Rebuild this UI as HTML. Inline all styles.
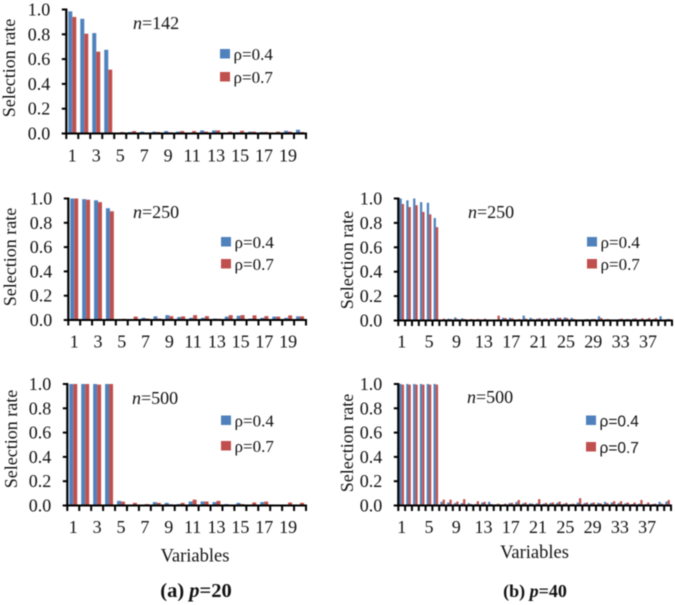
<!DOCTYPE html>
<html lang="en">
<head>
<meta charset="utf-8">
<title>Selection rate by variable</title>
<style>
html,body{margin:0;padding:0;background:#fff;width:675px;height:605px;overflow:hidden}
svg{display:block;filter:blur(.45px)}
text{font-family:"Liberation Serif",serif;fill:#111}
</style>
</head>
<body>
<svg id="figure" xmlns="http://www.w3.org/2000/svg" width="675" height="605" viewBox="0 0 675 605">
  <text x="195" y="561.5" font-size="18.5" text-anchor="middle">Variables</text>
  <text x="534.5" y="558" font-size="18.5" text-anchor="middle">Variables</text>
  <text x="196" y="597" font-size="20.5" font-weight="bold" text-anchor="middle">(a) <tspan font-style="italic">p</tspan>=20</text>
  <text x="535" y="597" font-size="18" font-weight="bold" text-anchor="middle">(b) <tspan font-style="italic">p</tspan>=40</text>
</svg>
<script>
// Data
const seriesNames = ['ρ=0.4', 'ρ=0.7'];
const yTickValues = [0, 0.2, 0.4, 0.6, 0.8, 1.0];
const yTickLabels = ['0.0', '0.2', '0.4', '0.6', '0.8', '1.0'];
const xTickLabels20 = [1, 3, 5, 7, 9, 11, 13, 15, 17, 19];
const xTickLabels40 = [1, 5, 9, 13, 17, 21, 25, 29, 33, 37];

const p20n142rho04 = [.985,.925,.81,.675,.002,.012,.015,.015,.02,.015,.005,.025,.025,.005,.01,.015,.012,.005,.022,.03];
const p20n142rho07 = [.94,.805,.66,.515,.012,.02,.005,.012,.01,.02,.02,.015,.025,.015,.022,.015,.012,.015,.015,.012];
const p20n250rho04 = [1,.995,.985,.92,.003,.005,.018,.03,.04,.025,.018,.018,.012,.028,.035,.012,.018,.028,.018,.03];
const p20n250rho07 = [1,.99,.97,.895,.01,.028,.012,.012,.032,.03,.04,.032,.01,.04,.04,.038,.032,.028,.038,.03];
const p20n500rho04 = [1,1,1,1,.038,.005,.005,.028,.022,.012,.033,.033,.028,.012,.022,.005,.028,.003,.003,.003];
const p20n500rho07 = [1,1,.995,1,.032,.022,.012,.022,.01,.022,.048,.033,.038,.005,.012,.025,.032,.003,.025,.022];
const p40n250rho04 = [1,.985,1,.97,.965,.84,.005,.015,.025,.018,.005,.005,.005,.005,.005,.022,.022,.005,.04,.022,.015,.015,.018,.022,.025,.022,.005,.01,.012,.035,.01,.005,.012,.012,.015,.01,.012,.012,.035,.012];
const p40n250rho07 = [.955,.93,.945,.89,.87,.765,.015,.012,.012,.012,.012,.012,.015,.005,.04,.02,.018,.012,.015,.012,.018,.015,.018,.022,.02,.012,.005,.012,.012,.02,.012,.005,.015,.012,.018,.018,.02,.02,.005,.012];
const p40n500rho04 = [1,1,1,1,1,1,.03,.025,.02,.02,.02,.012,.025,.03,.01,.008,.02,.028,.018,.018,.018,.015,.02,.022,.015,.012,.025,.02,.02,.022,.03,.025,.02,.018,.012,.015,.012,.012,.03,.032];
const p40n500rho07 = [.995,.995,.995,.995,.995,.995,.048,.048,.032,.052,.012,.035,.03,.012,.015,.015,.022,.045,.025,.015,.052,.022,.025,.032,.022,.015,.06,.025,.025,.018,.02,.035,.035,.025,.025,.045,.025,.015,.015,.045];

const seriesColors = ['#4f81bd', '#c0504d'];
const NS = 'http://www.w3.org/2000/svg';
const root = document.getElementById('figure');

function make(parent, tag, attrs, txt) {
  const node = document.createElementNS(NS, tag);
  for (const k in attrs) node.setAttribute(k, attrs[k]);
  if (txt !== undefined) node.textContent = txt;
  parent.appendChild(node);
  return node;
}

function drawPanel(cfg) {
  const panel = make(root, 'g', {});
  
  

  const count = cfg.values[0].length;
  const step = (cfg.right - cfg.left) / count;
  const xScale = i => cfg.left + step * i;
  const yScale = v => cfg.base - (cfg.base - cfg.top) * v;
  const barW = step / 3;

  cfg.values.forEach((vals, s) => {
    vals.forEach((v, i) => {
      const y = yScale(v);
      const bar = make(panel, 'rect', {
        x: xScale(i) + step / 2 - barW + s * barW,
        y: y,
        width: barW,
        height: cfg.base - y,
        fill: seriesColors[s]
      });
      
      
    });
  });

  const yAxis = make(panel, 'line', {x1: cfg.left, x2: cfg.left, y1: cfg.top - 1, y2: cfg.base + 1, stroke: '#000', 'stroke-width': 2.2});
  
  
  const xAxis = make(panel, 'line', {x1: cfg.left - 4.5, x2: cfg.right + 1, y1: cfg.base, y2: cfg.base, stroke: '#000', 'stroke-width': 2});
  
  

  yTickValues.forEach((v, i) => {
    const y = yScale(v);
    const tick = make(panel, 'line', {x1: cfg.left - 4.5, x2: cfg.left, y1: y, y2: y, stroke: '#000', 'stroke-width': 2});
    
    
    const label = make(panel, 'text', {x: cfg.left - 16, y: y + 6, 'font-size': 18, 'text-anchor': 'end'}, yTickLabels[i]);
    
    
  });

  for (let i = 0; i <= count; i++) {
    const tick = make(panel, 'line', {x1: xScale(i), x2: xScale(i), y1: cfg.base, y2: cfg.base + 5.5, stroke: '#000', 'stroke-width': 2});
    
    
  }

  cfg.xLabels.forEach(n => {
    const label = make(panel, 'text', {x: xScale(n - 1) + step / 2, y: cfg.labelY, 'font-size': 18, 'text-anchor': 'middle'}, n);
    
    
  });

  const yTitle = make(panel, 'text', {
    transform: 'translate(' + cfg.titleX + ',' + cfg.titleY + ') rotate(-90)',
    'font-size': 18, 'text-anchor': 'middle'
  }, 'Selection rate');
  
  

  const nLabel = make(panel, 'text', {x: cfg.nX, y: cfg.nY, 'font-size': 18});
  
  
  make(nLabel, 'tspan', {'font-style': 'italic'}, 'n');
  make(nLabel, 'tspan', {}, '=' + cfg.n);

  seriesNames.forEach((name, s) => {
    const entry = make(panel, 'g', {});
    
    
    make(entry, 'rect', {x: cfg.legendX, y: cfg.legendY[s], width: 10, height: 9.5, fill: seriesColors[s]});
    const t = make(entry, 'text', {x: cfg.legendX + 13.5, y: cfg.legendY[s] + 11, 'font-size': 17}, name);
    if (cfg.legendSans) t.style.fontFamily = '"Liberation Sans", sans-serif';
    if (cfg.legendSans) t.setAttribute('font-size', '15.5');
  });
}

drawPanel({id: 'p20-n142', n: 142, values: [p20n142rho04, p20n142rho07], xLabels: xTickLabels20,
  left: 66.3, right: 306, top: 9.5, base: 133.5, labelY: 161.5, titleX: 15, titleY: 68,
  nX: 133, nY: 29, legendX: 220, legendY: [49, 72]});
drawPanel({id: 'p20-n250', n: 250, values: [p20n250rho04, p20n250rho07], xLabels: xTickLabels20,
  left: 68.3, right: 306, top: 198.5, base: 320, labelY: 347.5, titleX: 16, titleY: 257,
  nX: 133, nY: 218, legendX: 221, legendY: [237, 259]});
drawPanel({id: 'p20-n500', n: 500, values: [p20n500rho04, p20n500rho07], xLabels: xTickLabels20,
  left: 67.3, right: 306, top: 384, base: 505.5, labelY: 533, titleX: 17, titleY: 439,
  nX: 132, nY: 404, legendX: 221, legendY: [415.5, 441]});
drawPanel({id: 'p40-n250', n: 250, values: [p40n250rho04, p40n250rho07], xLabels: xTickLabels40,
  left: 398.3, right: 672, top: 198.5, base: 320.5, labelY: 347.5, titleX: 353, titleY: 260,
  nX: 468, nY: 218, legendX: 587, legendY: [237, 259]});
drawPanel({id: 'p40-n500', n: 500, values: [p40n500rho04, p40n500rho07], xLabels: xTickLabels40,
  left: 398.3, right: 671, top: 384, base: 505.5, labelY: 533, titleX: 353, titleY: 443,
  nX: 467, nY: 403, legendX: 586, legendY: [415.5, 442], legendSans: true});
</script>
</body>
</html>
